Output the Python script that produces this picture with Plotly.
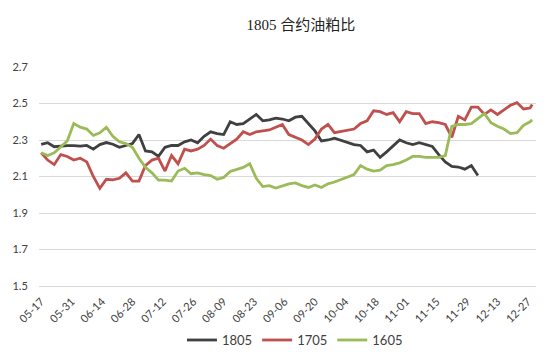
import plotly.graph_objects as go

dates = [
    "2017-05-17", "2017-05-20", "2017-05-23", "2017-05-26", "2017-05-29",
    "2017-06-01", "2017-06-04", "2017-06-07", "2017-06-10", "2017-06-13",
    "2017-06-16", "2017-06-19", "2017-06-22", "2017-06-25", "2017-06-28",
    "2017-07-01", "2017-07-04", "2017-07-07", "2017-07-10", "2017-07-13",
    "2017-07-16", "2017-07-19", "2017-07-22", "2017-07-25", "2017-07-28",
    "2017-07-31", "2017-08-03", "2017-08-06", "2017-08-09", "2017-08-12",
    "2017-08-15", "2017-08-18", "2017-08-21", "2017-08-24", "2017-08-27",
    "2017-08-30", "2017-09-02", "2017-09-05", "2017-09-08", "2017-09-11",
    "2017-09-14", "2017-09-17", "2017-09-20", "2017-09-23", "2017-09-26",
    "2017-09-29", "2017-10-08", "2017-10-11", "2017-10-14", "2017-10-17",
    "2017-10-20", "2017-10-23", "2017-10-26", "2017-10-29", "2017-11-01",
    "2017-11-04", "2017-11-07", "2017-11-10", "2017-11-13", "2017-11-16",
    "2017-11-19", "2017-11-22", "2017-11-25", "2017-11-28", "2017-12-01",
    "2017-12-04", "2017-12-07", "2017-12-10", "2017-12-13", "2017-12-16",
    "2017-12-19", "2017-12-22", "2017-12-25", "2017-12-28", "2017-12-29",
]

ratio_1805 = [
    2.276, 2.285, 2.263, 2.267, 2.269, 2.269, 2.266, 2.270, 2.250, 2.275,
    2.286, 2.277, 2.260, 2.270, 2.280, 2.330, 2.240, 2.235, 2.210, 2.260,
    2.270, 2.270, 2.290, 2.300, 2.285, 2.320, 2.345, 2.335, 2.330, 2.400,
    2.385, 2.390, 2.415, 2.440, 2.405, 2.410, 2.420, 2.415, 2.405, 2.425,
    2.430, 2.390, 2.350, 2.295, 2.300, 2.310, 2.275, 2.270, 2.235, 2.245,
    2.205, 2.235, 2.270, 2.300, 2.285, 2.275, 2.285, 2.275, 2.265, 2.220,
    2.180, 2.155, 2.152, 2.140, 2.160, 2.105, None, None, None, None,
    None, None, None, None, None,
]

ratio_1705 = [
    2.230, 2.190, 2.165, 2.220, 2.210, 2.190, 2.200, 2.180, 2.100, 2.035,
    2.085, 2.082, 2.090, 2.120, 2.075, 2.075, 2.160, 2.190, 2.200, 2.130,
    2.215, 2.170, 2.250, 2.240, 2.250, 2.270, 2.305, 2.270, 2.255, 2.280,
    2.305, 2.345, 2.330, 2.345, 2.350, 2.355, 2.370, 2.385, 2.330, 2.315,
    2.300, 2.275, 2.305, 2.360, 2.385, 2.340, 2.360, 2.390, 2.405, 2.460,
    2.455, 2.440, 2.450, 2.400, 2.455, 2.445, 2.445, 2.390, 2.400, 2.395,
    2.385, 2.315, 2.430, 2.410, 2.480, 2.480, 2.440, 2.465, 2.440, 2.465,
    2.490, 2.505, 2.470, 2.475, 2.495,
]

ratio_1605 = [
    2.230, 2.215, 2.230, 2.265, 2.295, 2.390, 2.370, 2.360, 2.325, 2.340,
    2.370, 2.320, 2.290, 2.280, 2.260, 2.200, 2.150, 2.120, 2.080, 2.080,
    2.075, 2.130, 2.145, 2.115, 2.120, 2.110, 2.105, 2.085, 2.095, 2.128,
    2.140, 2.150, 2.170, 2.090, 2.045, 2.050, 2.037, 2.050, 2.060, 2.065,
    2.050, 2.040, 2.054, 2.040, 2.060, 2.070, 2.110, 2.160, 2.140, 2.130,
    2.135, 2.160, 2.165, 2.175, 2.190, 2.210, 2.210, 2.205, 2.205, 2.205,
    2.215, 2.375, 2.385, 2.385, 2.390, 2.420, 2.445, 2.395, 2.375, 2.360,
    2.335, 2.340, 2.380, 2.400, 2.410,
]

series_names = ["1805", "1705", "1605"]
series_colors = ["#404040", "#C0504D", "#9BBB59"]
series_values = [ratio_1805, ratio_1705, ratio_1605]

fig = go.Figure()
for name, color, vals in zip(series_names, series_colors, series_values):
    fig.add_trace(go.Scatter(
        x=dates, y=vals, name=name, mode="lines",
        line=dict(color=color, width=2.8), connectgaps=False,
    ))

fig.update_layout(
    width=554, height=352,
    margin=dict(l=39, r=18, t=67, b=66, autoexpand=False),
    paper_bgcolor="white", plot_bgcolor="white",
    title=dict(
        text="1805 合约油粕比", x=0.543, xref="container", xanchor="center",
        y=0.93, yref="container", yanchor="middle",
        font=dict(family="Liberation Serif, Noto Sans CJK SC", size=15, color="#222222"),
    ),
    showlegend=True,
    legend=dict(
        orientation="h", x=0.515, xanchor="center",
        yref="container", y=0.034, yanchor="middle",
        font=dict(family="Lato, Noto Sans", size=13, color="#404040"),
        itemwidth=30, tracegroupgap=0,
    ),
    font=dict(family="Lato, Noto Sans", size=11, color="#595959"),
)

fig.update_xaxes(
    type="date", automargin=False,
    range=["2017-05-16", "2017-12-30 18:00"],
    tick0="2017-05-17", dtick=14 * 86400000, tickformat="%m-%d",
    tickangle=-45, showgrid=False, zeroline=False,
    showline=True, linecolor="#D9D9D9", linewidth=1,
    ticks="outside", ticklen=4, tickcolor="white",
    tickfont=dict(family="Lato, Noto Sans", size=11, color="#404040"),
)
fig.update_yaxes(
    automargin=False,
    range=[1.5, 2.7], dtick=0.2, tick0=1.5, tickformat=".1f",
    showgrid=True, gridcolor="#D9D9D9", gridwidth=1,
    zeroline=False, showline=False,
    ticks="outside", ticklen=8, tickcolor="white",
    tickfont=dict(family="Lato, Noto Sans", size=11, color="#404040"),
)

fig.write_html("out.html")
